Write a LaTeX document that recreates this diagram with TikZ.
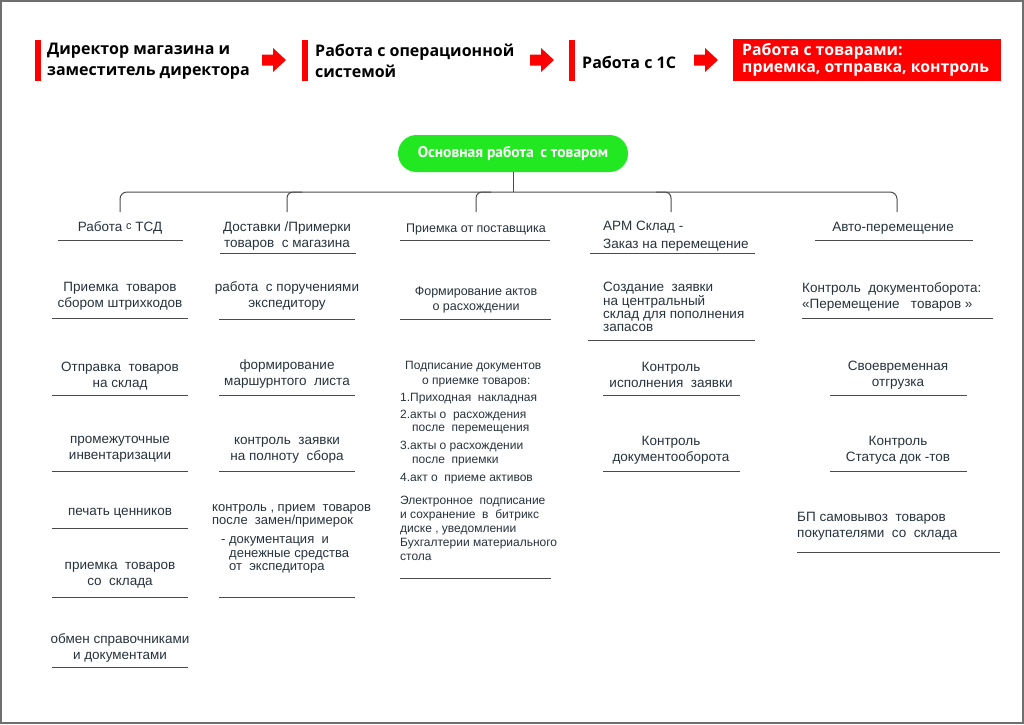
\documentclass[tikz,border=0pt]{standalone}
\usepackage{fontspec}
\setmainfont{Liberation Sans}
\newfontfamily\hdrfont{Open Sans}
\newfontfamily\grfont{PT Sans}
\definecolor{redc}{RGB}{255,0,0}
\definecolor{greenc}{RGB}{34,232,34}
\definecolor{txt}{RGB}{38,50,60}
\definecolor{linec}{RGB}{75,75,75}
\tikzset{
  hdr/.style={font=\hdrfont\bfseries\fontsize{16}{20.5}\selectfont, text=black, align=left, anchor=west, inner sep=0},
  item/.style={font=\fontsize{13.5}{16}\selectfont, text=txt, align=center, inner sep=0},
  itemL/.style={item, align=left, anchor=west},
  small/.style={item, font=\fontsize{12}{13.5}\selectfont},
  uline/.style={draw=linec, line width=0.9},
  tree/.style={draw=linec, line width=1},
  redbar/.style={fill=redc},
  barrow/.pic={\fill[redc] (0,-5.5) -- (11,-5.5) -- (11,-12) -- (24,0) -- (11,12) -- (11,5.5) -- (0,5.5) -- cycle;}
}
\begin{document}
\begin{tikzpicture}[x=1pt,y=-1pt]
\useasboundingbox (0,0) rectangle (1024,724);
\draw[linec!80, line width=1.5] (1,1) rectangle (1023,723);
% header
\fill[redbar] (35,40) rectangle (40.5,81);
\node[hdr] (t1) at (47,61) {Директор магазина и\\заместитель директора};
\pic at (262,60) {barrow};
\fill[redbar] (302,40) rectangle (307.5,81);
\node[hdr] (t2) at (315,61) {Работа с операционной\\системой};
\pic at (530,60) {barrow};
\fill[redbar] (569,40) rectangle (574.5,81);
\node[hdr] (t3) at (582,62) {Работа с 1С};
\pic at (694,60) {barrow};
\node[fill=redc, minimum width=268, minimum height=42, inner sep=0] (t4) at (867,60) {};
\node[hdr, text=white, font=\hdrfont\bfseries\fontsize{15.8}{16.5}\selectfont] (t4t) at (742,60) {Работа с товарами:\\приемка, отправка, контроль};
% main node
\node[fill=greenc, rounded corners=18.5, minimum width=230, minimum height=37, text=white, inner sep=0, font=\grfont\bfseries\fontsize{15.5}{16}\selectfont] (main) at (513,153.5) {Основная работа\, с товаром};
% tree
\coordinate (j) at (513,192);
\coordinate (d1) at (120,212);
\coordinate (d2) at (287,212);
\coordinate (d3) at (476,212);
\coordinate (d4) at (671,212);
\coordinate (d5) at (897,212);
\draw[tree] (main.south) -- (j);
\draw[tree, rounded corners=7] (d1) |- (j) -| (d5);
\foreach \d in {d2,d3} \draw[tree, rounded corners=6] (\d) |- ([xshift=15pt]\d |- j);
\draw[tree, rounded corners=6] ([xshift=-15pt]d4 |- j) -| (d4);
% column 1
\node[item] (h1) at (120,228) {Работа \raisebox{2.5pt}{\fontsize{11}{11}\selectfont с} ТСД};
\draw[uline] (58,240) -- (183,240);
\node[item] (a1) at (120,296) {Приемка \ товаров\\сбором штрихкодов};
\draw[uline] (52,318) -- (188,318);
\node[item] (a2) at (120,376.5) {Отправка \ товаров\\на склад};
\draw[uline] (52,395) -- (188,395);
\node[item] (a3) at (120,449.5) {промежуточные\\инвентаризации};
\draw[uline] (52,471) -- (188,471);
\node[item] (a4) at (120,513) {печать ценников};
\draw[uline] (52,528) -- (188,528);
\node[item] (a5) at (120,575.5) {приемка \ товаров\\со \ склада};
\draw[uline] (52,597) -- (188,597);
\node[item] (a6) at (120,647.5) {обмен справочниками\\и документами};
\draw[uline] (52,667) -- (188,667);
% column 2
\node[item] (h2) at (287,236) {Доставки /Примерки\\товаров \ с магазина};
\draw[uline] (220,253) -- (356,253);
\node[item] (b1) at (287,295.5) {работа \ с поручениями\\экспедитору};
\draw[uline] (219,319) -- (355,319);
\node[item] (b2) at (287,373.5) {формирование\\маршурнтого \ листа};
\draw[uline] (219,395) -- (355,395);
\node[item] (b3) at (287,450) {контроль \ заявки\\на полноту \ сбора};
\draw[uline] (219,471) -- (355,471);
\node[item, align=left, anchor=north west, font=\fontsize{13}{13.5}\selectfont] (b4) at (212,504) {контроль , прием \ товаров\\после \ замен/примерок\\[5.5pt]\hspace*{9pt}- документация \ и\\\hspace*{17pt}денежные средства\\\hspace*{17pt}от \ экспедитора};
\draw[uline] (219,597) -- (355,597);
% column 3
\node[item, font=\fontsize{12.5}{15}\selectfont] (h3) at (476,229) {Приемка от поставщика};
\draw[uline] (400,240) -- (550,240);
\node[item, font=\fontsize{12.5}{15}\selectfont] (c1) at (476,299.5) {Формирование актов\\о расхождении};
\draw[uline] (400,319) -- (551,319);
\node[small, align=left, anchor=north west] (c2) at (400,361) {\hspace*{5pt}Подписание документов\\[1.5pt]
\hspace*{22pt}о приемке товаров:\\[3.5pt]
1.Приходная \ накладная\\[3.5pt]
2.акты о \ расхождения\\
\hspace*{12pt}после \ перемещения\\[4.5pt]
3.акты о расхождении\\
\hspace*{12pt}после \ приемки\\[4.5pt]
4.акт о \ приеме активов\\[9.5pt]
Электронное \ подписание\\[0.5pt]
и сохранение \ в \ битрикс\\[0.5pt]
диске , уведомлении\\[0.5pt]
Бухгалтерии материального\\[0.5pt]
стола};
\draw[uline] (400,578) -- (551,578);
% column 4
\node[itemL, font=\fontsize{13.5}{18}\selectfont] (h4) at (603,236) {АРМ Склад -\\Заказ на перемещение};
\draw[uline] (590,253) -- (755,253);
\node[itemL, font=\fontsize{13.5}{13.3}\selectfont] (e1) at (603,307) {Создание \ заявки\\на центральный\\склад для пополнения\\запасов};
\draw[uline] (588,340) -- (755,340);
\node[item] (e2) at (671,374.5) {Контроль\\исполнения \ заявки};
\draw[uline] (603,395) -- (740,395);
\node[item] (e3) at (671,450) {Контроль\\документооборота};
\draw[uline] (603,471) -- (740,471);
% column 5
\node[item] (h5) at (893,228) {Авто-перемещение};
\draw[uline] (815,240) -- (973,240);
\node[itemL] (f1) at (802,296.5) {Контроль \ документоборота:\\«Перемещение \ \ товаров »};
\draw[uline] (802,318) -- (993,318);
\node[item] (f2) at (898,375.5) {Своевременная\\отгрузка};
\draw[uline] (830,395) -- (967,395);
\node[item] (f3) at (898,450) {Контроль\\Статуса док -тов};
\draw[uline] (830,471) -- (967,471);
\node[itemL] (f4) at (797,526) {БП самовывоз \ товаров\\покупателями \ со \ склада};
\draw[uline] (797,552) -- (1000,552);
\end{tikzpicture}
\end{document}
